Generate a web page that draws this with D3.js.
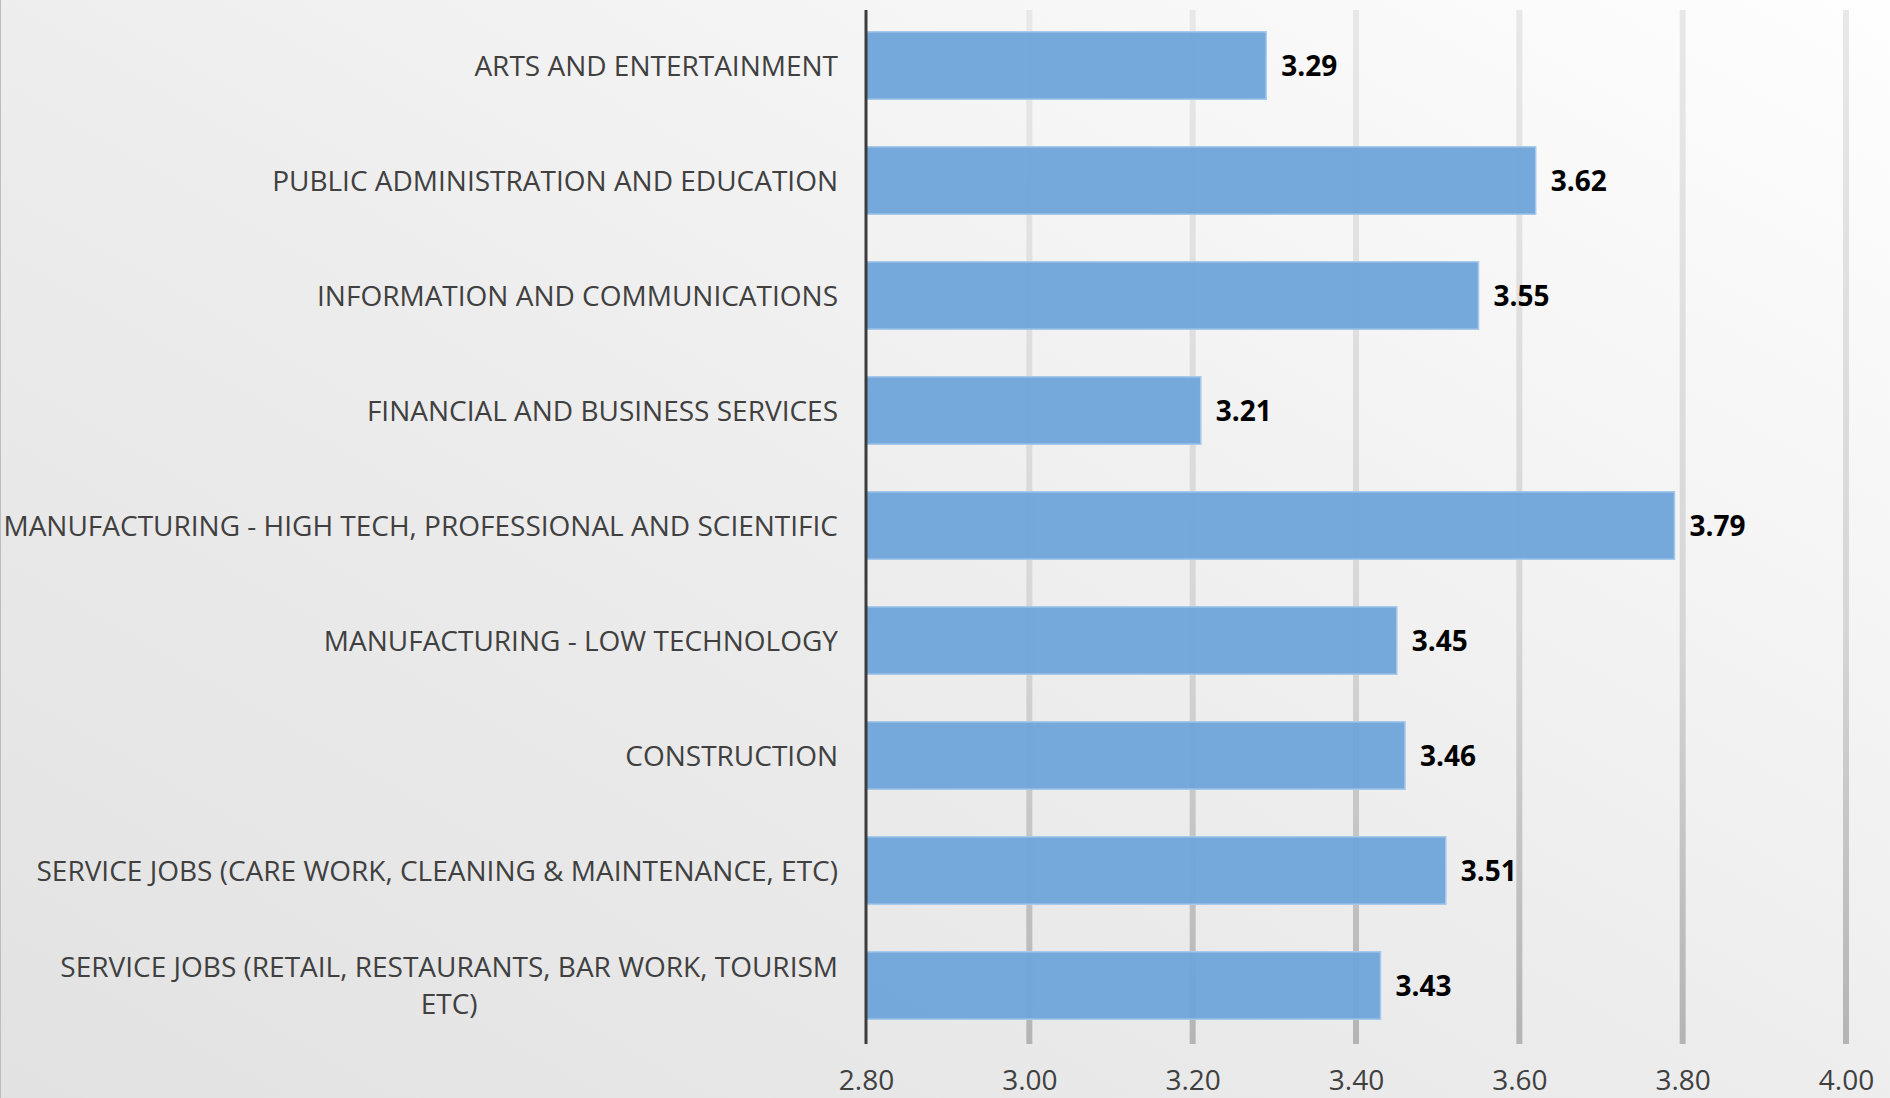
<!DOCTYPE html>
<html>
<head>
<meta charset="utf-8">
<script src="https://cdn.jsdelivr.net/npm/d3@7"></script>
<style>
    html, body { margin: 0; padding: 0; overflow: hidden; }
    svg { display: block; }
</style>
</head>
<body>
<div id="chart"></div>
<script>
// Mean score by sector (horizontal bars)

const categories = [
    'ARTS AND ENTERTAINMENT',
    'PUBLIC ADMINISTRATION AND EDUCATION',
    'INFORMATION AND COMMUNICATIONS',
    'FINANCIAL AND BUSINESS SERVICES',
    'MANUFACTURING - HIGH TECH, PROFESSIONAL AND SCIENTIFIC',
    'MANUFACTURING - LOW TECHNOLOGY',
    'CONSTRUCTION',
    'SERVICE JOBS (CARE WORK, CLEANING & MAINTENANCE, ETC)',
    'SERVICE JOBS (RETAIL, RESTAURANTS, BAR WORK, TOURISM\nETC)'
];

const values = [3.29, 3.62, 3.55, 3.21, 3.79, 3.45, 3.46, 3.51, 3.43];

const xTicks = [2.8, 3.0, 3.2, 3.4, 3.6, 3.8, 4.0];

const W = 1890, H = 1098;
const font = '"Open Sans", "Noto Sans", sans-serif';

const svg = d3.select('#chart').append('svg')
    .attr('width', W)
    .attr('height', H);

const defs = svg.append('defs');

// Background gradient
const bg = defs.append('linearGradient')
    .attr('id', 'bg-grad')
    .attr('x1', '100%').attr('y1', '0%')
    .attr('x2', '0%').attr('y2', '100%');
bg.append('stop').attr('offset', '0%').attr('stop-color', '#fefefe');
bg.append('stop').attr('offset', '55%').attr('stop-color', '#ececec');
bg.append('stop').attr('offset', '100%').attr('stop-color', '#e2e2e2');

// Gridline gradient (darker towards the bottom)
const gg = defs.append('linearGradient')
    .attr('id', 'grid-grad')
    .attr('gradientUnits', 'userSpaceOnUse')
    .attr('x1', 0).attr('y1', 0)
    .attr('x2', 0).attr('y2', 1044);
gg.append('stop').attr('offset', '0%').attr('stop-color', '#e8e8e8');
gg.append('stop').attr('offset', '60%').attr('stop-color', '#d6d6d6');
gg.append('stop').attr('offset', '100%').attr('stop-color', '#b4b4b4');

svg.append('rect')
    .attr('width', W)
    .attr('height', H)
    .attr('fill', 'url(#bg-grad)');

svg.append('line')
    .attr('x1', 0.5).attr('x2', 0.5)
    .attr('y1', 0).attr('y2', H)
    .attr('stroke', '#bdbdbd')
    .attr('stroke-width', 1);

// Scales
const x = d3.scaleLinear()
    .domain([2.8, 4.0])
    .range([866, 1846]);

const y = d3.scaleBand()
    .domain(categories)
    .range([8, 1043])
    .paddingInner(0.413)
    .paddingOuter(0.2065);

// Grid lines
svg.append('g')
    .selectAll('line')
    .data(xTicks.slice(1))
    .enter()
    .append('line')
    .attr('x1', d => x(d))
    .attr('x2', d => x(d))
    .attr('y1', 10)
    .attr('y2', 1044)
    .attr('stroke', 'url(#grid-grad)')
    .attr('stroke-width', 6);

// Bars
svg.append('g')
    .selectAll('rect')
    .data(values)
    .enter()
    .append('rect')
    .attr('x', x(2.8))
    .attr('y', (d, i) => y(categories[i]))
    .attr('width', d => x(d) - x(2.8))
    .attr('height', y.bandwidth())
    .attr('fill', '#6fa6da')
    .attr('fill-opacity', 0.96)
    .attr('stroke', '#a6c8ea')
    .attr('stroke-width', 1.5);

// Value labels
svg.append('g')
    .selectAll('text')
    .data(values)
    .enter()
    .append('text')
    .attr('x', d => x(d) + 15)
    .attr('y', (d, i) => y(categories[i]) + y.bandwidth() / 2)
    .attr('dy', '0.36em')
    .attr('font-family', font)
    .attr('font-weight', 700)
    .attr('font-size', '28px')
    .attr('fill', '#000')
    .text(d => d.toFixed(2));

// Category axis line
svg.append('line')
    .attr('x1', x(2.8)).attr('x2', x(2.8))
    .attr('y1', 10).attr('y2', 1044)
    .attr('stroke', '#3c3c3c')
    .attr('stroke-width', 3);

// Category labels (multi-line labels centred on their longest line)
const labels = svg.append('g')
    .selectAll('text')
    .data(categories)
    .enter()
    .append('text')
    .attr('font-family', font)
    .attr('font-size', '28px')
    .attr('fill', '#404040')
    .attr('text-anchor', 'middle');

labels.each(function (d) {
    const t = d3.select(this);
    const lines = d.split('\n');
    const lh = 37.5;
    const cy = y(d) + y.bandwidth() / 2 - (lines.length - 1) * lh / 2;
    lines.forEach((ln, i) => {
        t.append('tspan')
            .attr('y', cy + i * lh)
            .attr('dy', '0.36em')
            .text(ln);
    });
    let maxW = 0;
    t.selectAll('tspan').each(function () {
        maxW = Math.max(maxW, this.getComputedTextLength());
    });
    t.selectAll('tspan').attr('x', 838 - maxW / 2);
});

// X axis tick labels
const xAxis = svg.append('g')
    .attr('transform', 'translate(0,1090)')
    .call(d3.axisBottom(x)
        .tickValues(xTicks)
        .tickSize(0)
        .tickPadding(0)
        .tickFormat(d3.format('.2f')));

xAxis.select('.domain').remove();
xAxis.selectAll('text')
    .attr('font-family', font)
    .attr('font-size', '28px')
    .attr('fill', '#404040')
    .attr('dy', 0);
</script>
</body>
</html>
